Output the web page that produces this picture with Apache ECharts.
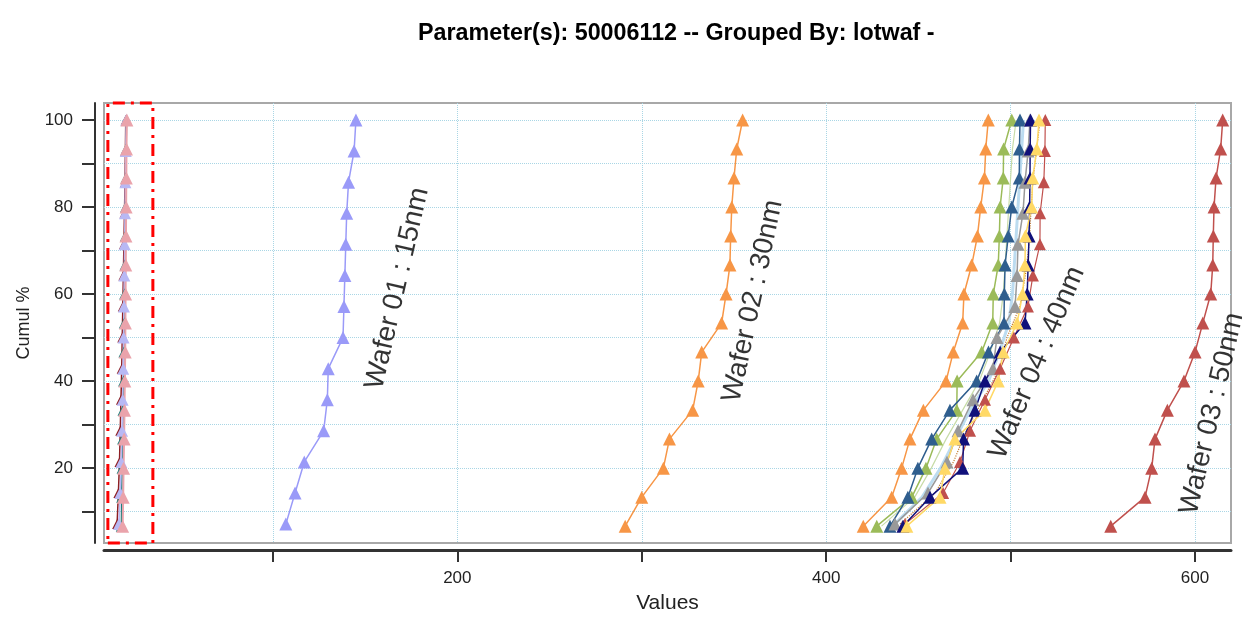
<!DOCTYPE html>
<html>
<head>
<meta charset="utf-8">
<script src="https://cdn.jsdelivr.net/npm/echarts@6/dist/echarts.min.js"></script>
<style>
html,body{margin:0;padding:0;background:#fff;}
#chart{width:1242px;height:619px;}
</style>
</head>
<body>
<div id="chart"></div>
<script>
// Cumulative percentage levels (y) for 15-point and 14-point groups
const cumul15 = [6.67, 13.33, 20, 26.67, 33.33, 40, 46.67, 53.33, 60, 66.67, 73.33, 80, 86.67, 93.33, 100];
const cumul14 = [7.14, 14.29, 21.43, 28.57, 35.71, 42.86, 50, 57.14, 64.29, 71.43, 78.57, 85.71, 92.86, 100];

// Values (x) per wafer / group, bottom to top
const wafer01 = [107, 112, 117, 127.5, 129.5, 130, 138, 138.5, 139, 139.5, 140, 141, 144, 145];
const wafer02 = [291, 300, 311.7, 315, 327.6, 330.6, 332.5, 343.3, 345.7, 347.8, 348.2, 348.8, 350, 351.5, 354.7];
const wafer03 = [554.3, 572.9, 576.5, 578.3, 585, 594, 600, 604.2, 608.5, 609.6, 609.9, 610.3, 611.4, 613.9, 615];

const w04Orange = [420.1, 435.5, 440.9, 445.4, 452.7, 465, 468.9, 474, 474.7, 478.9, 482, 483.8, 485.8, 486.5, 487.9];
const w04Green = [427.4, 446.4, 454.1, 459.9, 470.8, 471, 484.3, 490.3, 490.6, 493.3, 493.9, 494.3, 496, 496.2, 500.6];
const w04LightGreen = [430, 448, 457, 465, 474, 483, 489, 494, 496, 497, 498, 499, 500, 501, 503];
const w04LightBlue = [436, 452, 462, 470, 478, 488, 494, 499, 501, 502, 503, 504, 505, 506, 507];
const w04Steel = [434.6, 444.3, 449.7, 457.2, 467.1, 481.6, 488, 496.4, 496.6, 497, 498.7, 500.6, 504.7, 504.8, 505.1];
const w04Gray = [437.3, 455.2, 465.5, 471.5, 479.6, 490.4, 492.6, 502.4, 503.5, 504, 506.7, 507.8, 509.5, 510.5];
const w04Brown = [440, 459, 469, 476, 485, 494, 498, 505, 508, 510, 511, 512, 514, 516];
const w04Red = [442.7, 463.4, 472.6, 478, 486.1, 494.3, 501.8, 509.4, 512.1, 515.9, 516, 518, 518.6, 518.8];
const w04Navy = [441.6, 456.3, 474, 474.5, 480.7, 486.1, 494.3, 507.8, 509, 509.5, 510, 510.3, 510.5, 510.6, 510.8];
const w04Yellow = [443.7, 461.7, 464.4, 469.8, 486.1, 493.3, 496, 503.5, 506.5, 507.8, 508, 511.4, 512, 514.2, 515.4];

const refDarkRed = [15.5, 16.2, 16.8, 17.2, 17.6, 18, 18.3, 18.6, 18.9, 19.2, 19.5, 19.8, 20, 20.2];
const refTeal = [17.8, 18, 18.2, 18.5, 18.7, 19, 19.2, 19.4, 19.6, 19.8, 20, 20.1, 20.3, 20.4, 20.6];
const refLavender = [16.5, 17.2, 17.8, 18.2, 18.5, 18.8, 19, 19.2, 19.4, 19.6, 19.8, 20, 20.2, 20.5];
const refPink = [18.5, 18.8, 19, 19.3, 19.5, 19.7, 19.9, 20, 20.1, 20.2, 20.3, 20.4, 20.5, 20.6, 20.8];

// Axis ticks and labels
const xTicks = [100, 200, 300, 400, 500, 600];
const xLabels = [200, 400, 600];
const yTicks = [10, 20, 30, 40, 50, 60, 70, 80, 90, 100];
const yLabels = [20, 40, 60, 80, 100];
const xRange = [8.4, 619.5];
const yRange = [2.8, 103.9];

// Annotations: position (data coords), text, rotation
const annoText = ['Wafer 01 : 15nm', 'Wafer 02 : 30nm', 'Wafer 04 : 40nm', 'Wafer 03 : 50nm'];
const annoX = [167.5, 360.3, 514.3, 609.2];
const annoY = [61.3, 58.4, 44.2, 32.5];
const annoRot = [77, 78, 67, 77];

// Highlight box around the reference group
const boxX = [10.5, 34.9];

function zip(xs, ys) { return xs.map((v, i) => [v, ys[i]]); }

function lineSeries(name, xs, ys, color, o) {
  o = o || {};
  return {
    name: name,
    type: 'line',
    data: zip(xs, ys),
    symbol: o.symbol || 'triangle',
    symbolSize: o.size || 12,
    showSymbol: o.symbol !== 'none',
    lineStyle: { color: color, width: o.width || 1.5, type: o.type || 'solid' },
    itemStyle: { color: color },
    emphasis: { disabled: true },
    silent: true,
    animation: false,
    z: o.z || 2
  };
}

const FONT = 'Liberation Sans, Arial, sans-serif';

const series = [
  lineSeries('Ref dark red', refDarkRed, cumul14, '#8e1f24', { size: 10, width: 1.5 }),
  lineSeries('Ref teal', refTeal, cumul15, '#20807c', { size: 11, width: 1.5 }),
  lineSeries('Ref lavender', refLavender, cumul14, '#b8b8f4', { size: 12 }),
  lineSeries('Ref pink', refPink, cumul15, '#eaa3ab', { size: 13, width: 2 }),
  lineSeries('Wafer 01', wafer01, cumul14, '#9a9af8', { size: 13 }),
  lineSeries('Wafer 02', wafer02, cumul15, '#f79646', { size: 13 }),
  lineSeries('Wafer 03', wafer03, cumul15, '#c0504d', { size: 13 }),
  lineSeries('W04 orange', w04Orange, cumul15, '#f79646', { size: 13 }),
  lineSeries('W04 light green', w04LightGreen, cumul15, '#c8dca8', { symbol: 'none', width: 1.2 }),
  lineSeries('W04 light blue', w04LightBlue, cumul15, '#bcdcf0', { symbol: 'none', width: 3 }),
  lineSeries('W04 green', w04Green, cumul15, '#9bbb59', { size: 13 }),
  lineSeries('W04 steel', w04Steel, cumul15, '#2f5e8e', { size: 13 }),
  lineSeries('W04 gray', w04Gray, cumul14, '#999999', { size: 13 }),
  lineSeries('W04 brown', w04Brown, cumul14, '#c07a30', { symbol: 'none', width: 1.2, type: 'dotted' }),
  lineSeries('W04 red', w04Red, cumul14, '#c0504d', { size: 12, width: 1.2 }),
  lineSeries('W04 navy', w04Navy, cumul15, '#10107a', { size: 13 }),
  lineSeries('W04 yellow', w04Yellow, cumul15, '#ffd966', { size: 13 }),
  {
    name: 'annotations',
    type: 'scatter',
    silent: true,
    animation: false,
    symbolSize: 2,
    itemStyle: { color: 'rgba(255,255,255,0)' },
    z: 10,
    data: annoText.map((t, i) => ({
      value: [annoX[i], annoY[i]],
      name: t,
      label: { rotate: annoRot[i] }
    })),
    label: {
      show: true,
      position: 'inside',
      formatter: p => p.name,
      fontFamily: FONT,
      fontSize: 28,
      color: '#000',
      textBorderWidth: 0,
      align: 'center',
      verticalAlign: 'middle'
    },
    markArea: {
      silent: true,
      itemStyle: {
        color: 'rgba(0,0,0,0)',
        borderColor: '#ff0000',
        borderWidth: 3,
        borderType: [12, 6, 3, 6]
      },
      data: [[{ coord: [boxX[0], yRange[0]] }, { coord: [boxX[1], yRange[1]] }]]
    }
  }
];

const chart = echarts.init(document.getElementById('chart'), null, { renderer: 'canvas' });
chart.setOption({
  backgroundColor: '#ffffff',
  animation: false,
  title: {
    text: 'Parameter(s): 50006112 -- Grouped By: lotwaf -',
    left: 413,
    top: 17,
    textStyle: { fontFamily: FONT, fontSize: 23.3, fontWeight: 'bold', color: '#000' }
  },
  grid: {
    left: 104, right: 11, top: 103, bottom: 76,
    show: true,
    borderColor: '#a8a8a8',
    borderWidth: 2,
    backgroundColor: '#fff'
  },
  xAxis: {
    type: 'value',
    min: xRange[0], max: xRange[1],
    offset: 7,
    name: 'Values',
    nameLocation: 'middle',
    nameGap: 43,
    nameTextStyle: { fontFamily: FONT, fontSize: 21, color: '#222' },
    axisLine: { show: true, lineStyle: { color: '#333', width: 3 } },
    axisTick: { show: true, length: 12, lineStyle: { color: '#333', width: 2 }, customValues: xTicks },
    axisLabel: { customValues: xLabels, margin: 20, fontFamily: FONT, fontSize: 17, color: '#222' },
    splitLine: { show: true, lineStyle: { color: '#a9d6e5', type: 'dotted', width: 1 } }
  },
  yAxis: {
    type: 'value',
    min: yRange[0], max: yRange[1],
    offset: 9,
    name: 'Cumul %',
    nameLocation: 'middle',
    nameGap: 62,
    nameTextStyle: { fontFamily: FONT, fontSize: 18, color: '#222' },
    axisLine: { show: true, lineStyle: { color: '#333', width: 2 } },
    axisTick: { show: true, length: 13, lineStyle: { color: '#333', width: 2 }, customValues: yTicks },
    axisLabel: { customValues: yLabels, margin: 22, fontFamily: FONT, fontSize: 17, color: '#222' },
    splitLine: { show: true, lineStyle: { color: '#a9d6e5', type: 'dotted', width: 1 } }
  },
  series: series
});
</script>
</body>
</html>
